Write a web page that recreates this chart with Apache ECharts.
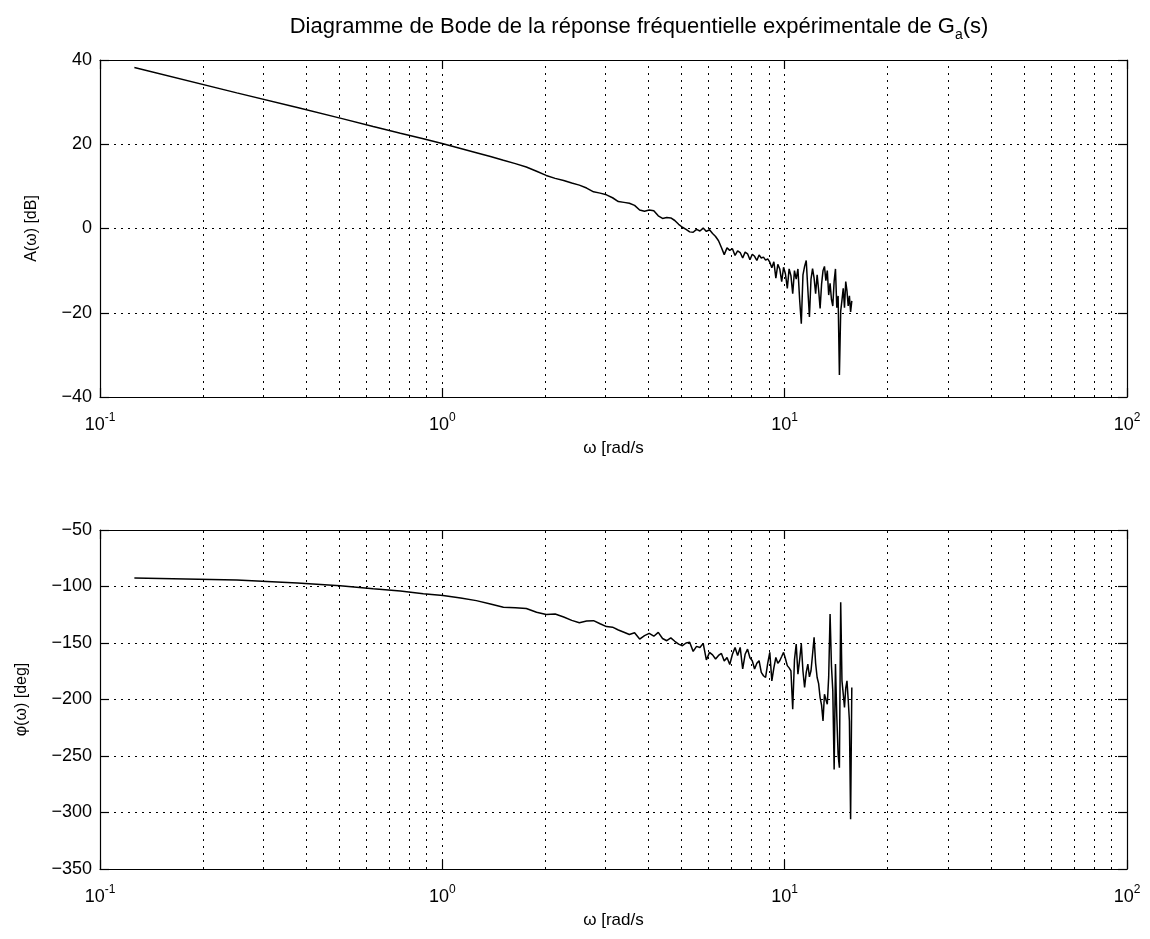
<!DOCTYPE html>
<html><head><meta charset="utf-8">
<script src="https://cdn.jsdelivr.net/npm/echarts@6/dist/echarts.min.js"></script>
<style>html,body{margin:0;padding:0;background:#fff}#c{width:1150px;height:939px}</style>
</head><body><div id="c"></div>
<script>
const omega = [0.126,0.251,0.377,0.503,0.628,0.754,0.880,1.005,1.131,1.257,1.382,1.508,1.634,1.759,1.885,2.011,2.136,2.262,2.388,2.513,
2.639,2.765,2.890,3.016,3.142,3.267,3.393,3.519,3.644,3.770,3.896,4.021,4.147,4.273,4.398,4.524,4.650,4.775,4.901,5.027,
5.152,5.278,5.404,5.529,5.655,5.781,5.906,6.032,6.158,6.283,6.409,6.535,6.660,6.786,6.912,7.037,7.163,7.288,7.414,7.540,
7.665,7.791,7.917,8.042,8.168,8.294,8.419,8.545,8.671,8.796,8.922,9.048,9.173,9.299,9.425,9.550,9.676,9.802,9.927,10.053,
10.179,10.304,10.430,10.556,10.681,10.807,10.933,11.058,11.184,11.310,11.435,11.561,11.687,11.812,11.938,12.064,12.189,12.315,12.441,12.566,
12.692,12.818,12.943,13.069,13.195,13.320,13.446,13.572,13.697,13.823,13.949,14.074,14.200,14.326,14.451,14.577,14.703,14.828,14.954,15.080,
15.205,15.331,15.457,15.582,15.708];
const magnitudeDb = [38.2,32.2,28.7,26.2,24.2,22.6,21.3,20.1,19.0,18.0,17.1,16.2,15.4,14.6,13.6,12.6,11.9,11.4,10.8,10.3,
9.6,8.7,8.4,8.0,7.3,6.4,6.2,6.0,5.5,4.4,4.1,4.4,4.2,3.0,2.4,2.6,2.5,1.9,1.0,0.3,
-0.2,-0.8,-0.9,-0.2,-0.6,0.1,-0.7,-0.3,-1.2,-1.9,-2.9,-4.5,-6.2,-4.6,-5.2,-4.8,-6.4,-5.3,-5.7,-7.0,
-5.6,-6.0,-7.4,-6.1,-6.6,-7.6,-6.3,-7.0,-6.8,-7.5,-7.2,-8.0,-9.3,-7.9,-11.8,-8.5,-9.6,-12.6,-9.2,-10.8,
-14.2,-9.6,-11.2,-15.5,-10.0,-12.0,-9.6,-16.8,-22.6,-11.0,-9.0,-7.6,-14.5,-21.0,-12.0,-9.5,-11.8,-15.5,-11.0,-14.6,
-19.0,-13.2,-10.0,-9.0,-12.4,-10.0,-15.8,-13.0,-16.8,-18.4,-12.5,-9.6,-18.8,-16.0,-34.8,-19.6,-17.0,-14.2,-18.8,-12.6,
-14.8,-18.4,-16.0,-19.8,-17.2];
const phaseDeg = [-92.5,-94.3,-96.8,-99.4,-102.0,-104.0,-106.5,-108.0,-110.2,-112.5,-115.5,-118.4,-118.8,-119.5,-122.8,-124.8,-124.3,-127.0,-130.0,-132.0,
-130.5,-130.2,-133.0,-135.5,-136.0,-138.5,-140.5,-142.5,-141.0,-146.5,-143.5,-141.5,-144.0,-140.6,-146.0,-148.0,-145.5,-148.5,-151.0,-152.4,
-150.0,-149.4,-157.4,-153.0,-154.0,-150.3,-165.0,-158.3,-160.5,-164.2,-161.0,-159.2,-166.0,-162.8,-169.0,-160.0,-154.0,-161.0,-153.9,-173.0,
-160.0,-155.4,-163.0,-165.7,-173.0,-168.0,-165.7,-176.0,-179.0,-180.5,-168.0,-158.3,-183.5,-172.0,-162.8,-168.0,-165.7,-162.0,-158.3,-164.0,
-170.0,-172.0,-174.6,-208.6,-165.0,-150.9,-177.6,-165.0,-150.9,-175.0,-189.4,-176.0,-168.7,-180.0,-174.6,-160.0,-145.0,-168.0,-180.5,-186.0,
-198.3,-205.0,-219.0,-195.3,-200.0,-204.2,-180.0,-124.3,-170.0,-192.4,-262.0,-168.7,-215.0,-248.6,-260.4,-113.9,-183.5,-195.0,-207.0,-190.0,
-183.5,-200.0,-219.0,-306.0,-189.4];
const minorGridValues = [0.2,0.3,0.4,0.5,0.6,0.7,0.8,0.9,2,3,4,5,6,7,8,9,20,30,40,50,60,70,80,90];
const titleText = 'Diagramme de Bode de la réponse fréquentielle expérimentale de G{sub|a}(s)';
const xName = 'ω [rad/s';
const magName = 'A(ω) [dB]';
const phaseName = 'φ(ω) [deg]';

const FONT = '"Liberation Sans", Arial, Helvetica, sans-serif';
const gridStyle = {color: '#000', width: 1, type: [2, 5]};
const chart = echarts.init(document.getElementById('c'), null, {renderer: 'canvas'});

function xAxisCfg(gridIndex, pos, showLabels) {
  return {
    type: 'log', logBase: 10, min: 0.1, max: 100, gridIndex, position: pos,
    name: showLabels ? xName : '', nameLocation: 'middle', nameGap: 43,
    nameTextStyle: {color: '#000', fontSize: 17, fontFamily: FONT},
    axisLine: {show: true, onZero: false, lineStyle: {color: '#000', width: 1.2}},
    axisTick: {show: true, inside: true, length: 9, lineStyle: {color: '#000', width: 1.2}},
    splitLine: {show: showLabels, lineStyle: gridStyle},
    axisLabel: {
      show: showLabels, margin: 15, color: '#000', fontSize: 18, fontFamily: FONT,
      formatter: v => '10{sup|' + Math.round(Math.log10(v)) + '}',
      rich: {sup: {fontSize: 12, fontFamily: FONT, color: '#000', verticalAlign: 'top', padding: [0, 0, 14, 0]}}
    }
  };
}
function yAxisCfg(gridIndex, pos, showLabels, min, max, interval, name, gap) {
  return {
    type: 'value', gridIndex, position: pos, min, max, interval,
    name: showLabels ? name : '', nameLocation: 'middle', nameGap: gap, nameRotate: 90,
    nameTextStyle: {color: '#000', fontSize: 16, fontFamily: FONT},
    axisLine: {show: true, onZero: false, lineStyle: {color: '#000', width: 1.2}},
    axisTick: {show: true, inside: true, length: 9, lineStyle: {color: '#000', width: 1.2}},
    splitLine: {show: showLabels, lineStyle: gridStyle},
    axisLabel: {show: showLabels, margin: 8, color: '#000', fontSize: 18, fontFamily: FONT,
      formatter: v => String(v).replace('-', '\u2212')}
  };
}
function markLines() {
  return {symbol: 'none', silent: true, animation: false, label: {show: false},
    lineStyle: gridStyle, data: minorGridValues.map(v => ({xAxis: v}))};
}

chart.setOption({
  animation: false,
  backgroundColor: '#fff',
  title: {
    text: titleText, left: 634, top: 7, textAlign: 'center',
    textStyle: {color: '#000', fontSize: 22, fontWeight: 'normal', fontFamily: FONT,
      rich: {sub: {fontSize: 14, fontFamily: FONT, color: '#000', verticalAlign: 'bottom', padding: [16, 0, 0, 0]}}}
  },
  grid: [
    {left: 100, top: 60, width: 1027, height: 337},
    {left: 100, top: 530, width: 1027, height: 339}
  ],
  xAxis: [xAxisCfg(0, 'bottom', true), xAxisCfg(0, 'top', false), xAxisCfg(1, 'bottom', true), xAxisCfg(1, 'top', false)],
  yAxis: [
    yAxisCfg(0, 'left', true, -40, 40, 20, magName, 60), yAxisCfg(0, 'right', false, -40, 40, 20, '', 0),
    yAxisCfg(1, 'left', true, -350, -50, 50, phaseName, 70), yAxisCfg(1, 'right', false, -350, -50, 50, '', 0)
  ],
  series: [
    {type: 'line', xAxisIndex: 0, yAxisIndex: 0, showSymbol: false, symbol: 'none',
     lineStyle: {color: '#000', width: 1.5}, data: omega.map((w, i) => [w, magnitudeDb[i]]), markLine: markLines(), z: 5},
    {type: 'line', xAxisIndex: 2, yAxisIndex: 2, showSymbol: false, symbol: 'none',
     lineStyle: {color: '#000', width: 1.5}, data: omega.map((w, i) => [w, phaseDeg[i]]), markLine: markLines(), z: 5}
  ]
});
</script></body></html>
